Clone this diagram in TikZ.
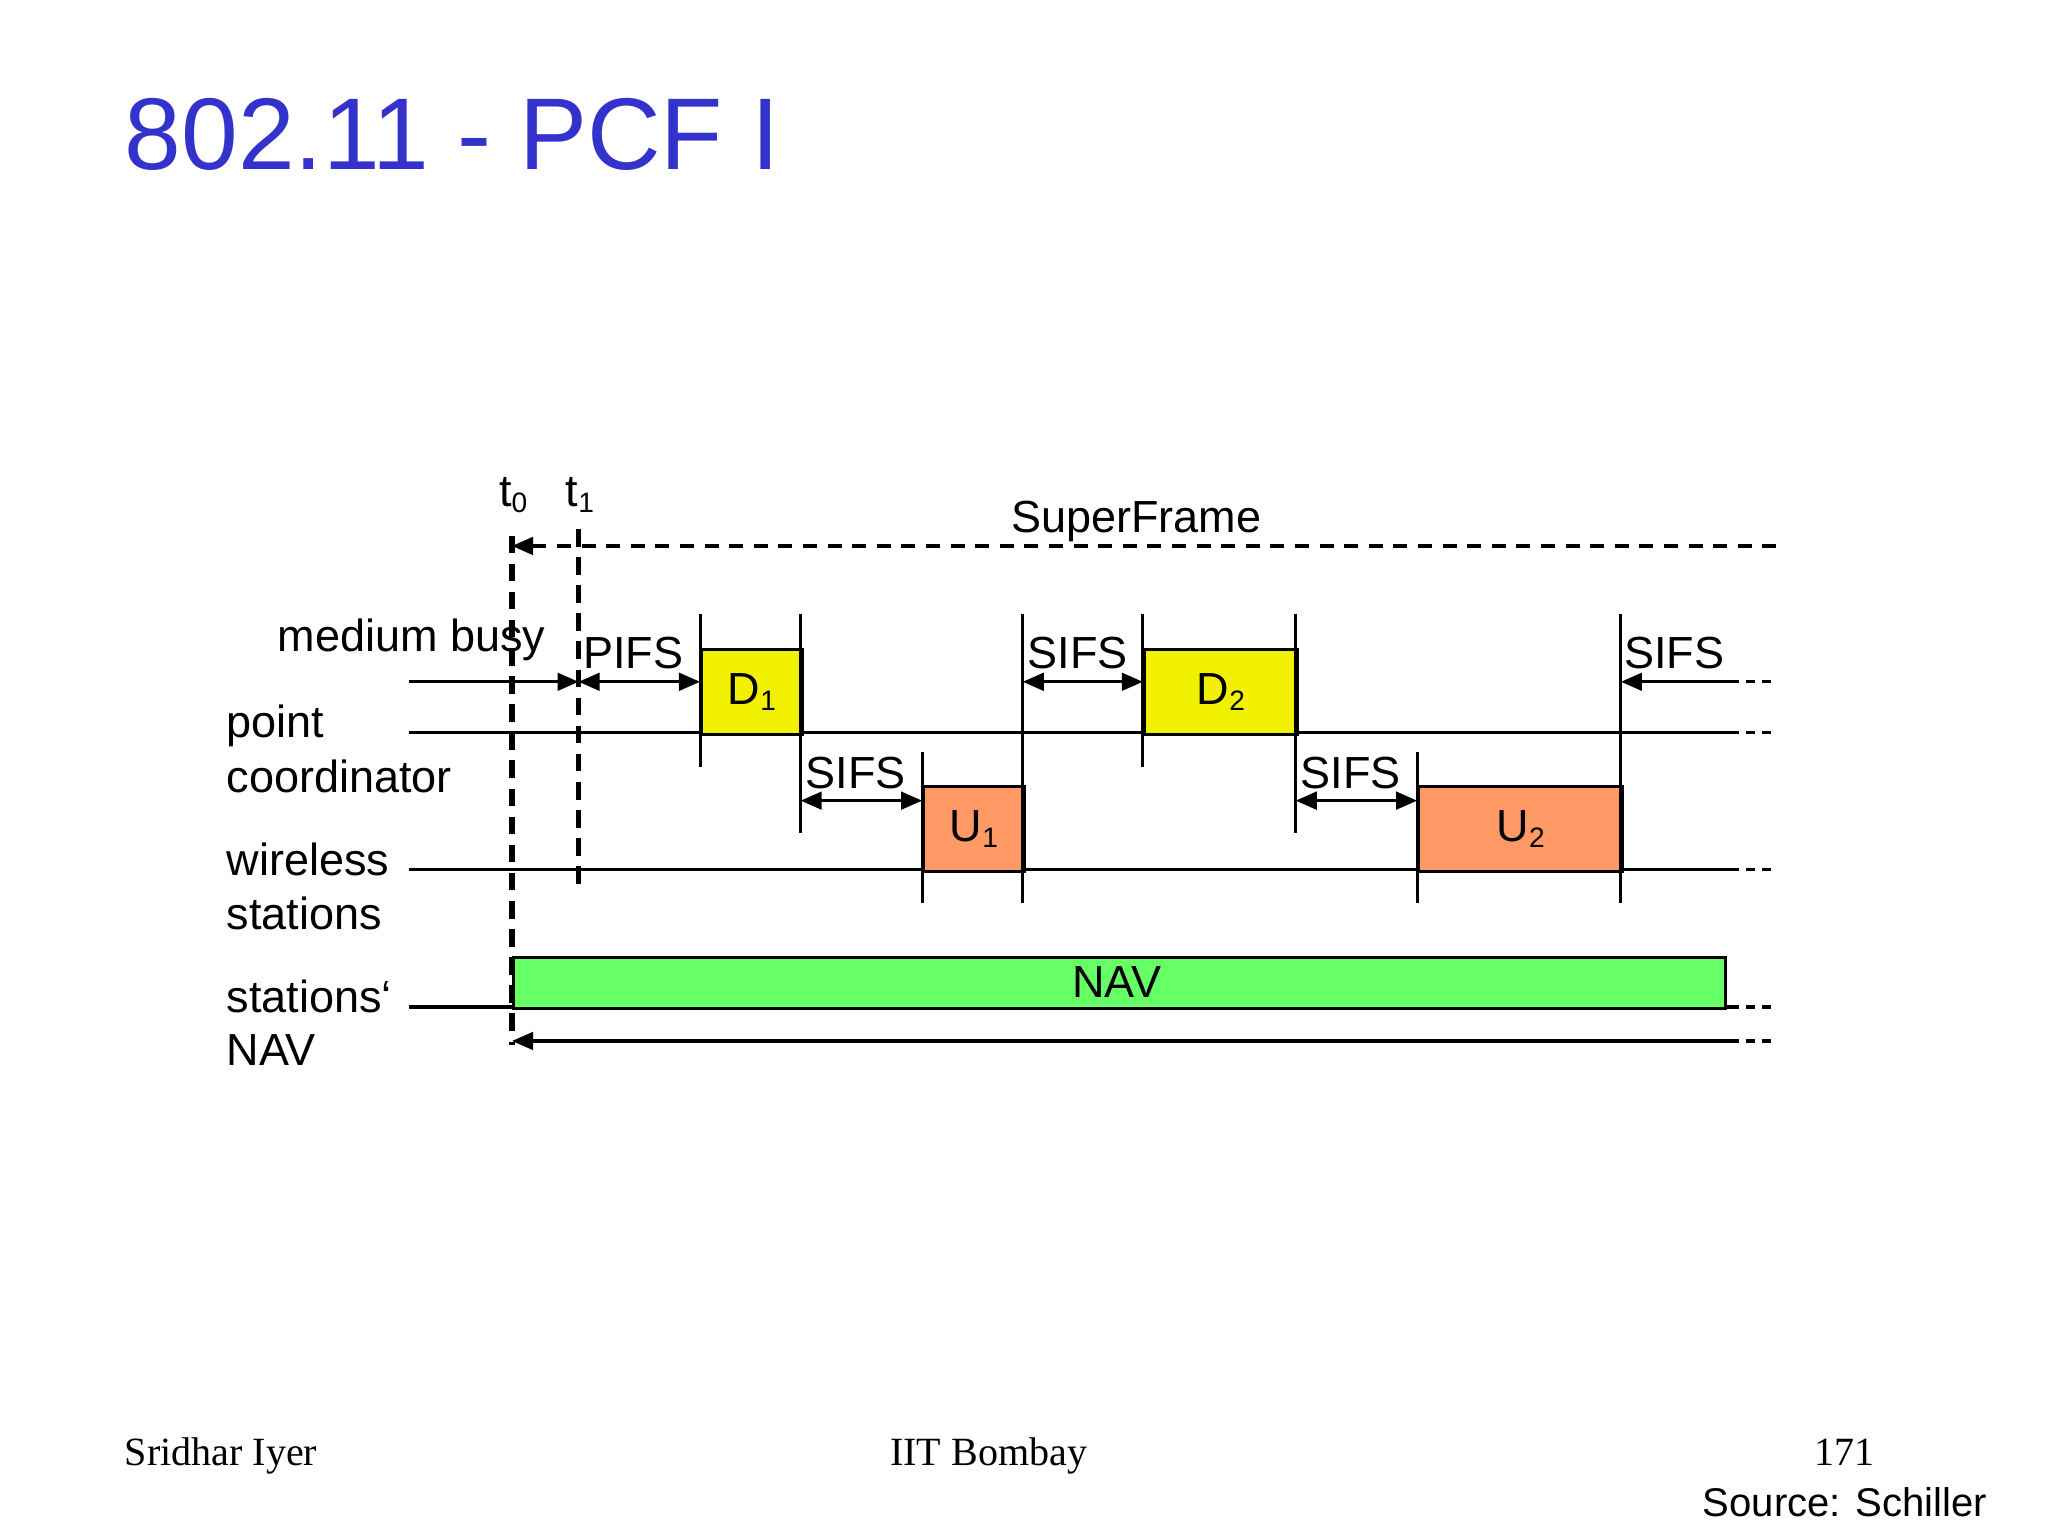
\documentclass[tikz,border=0pt]{standalone}
\usepackage{fontspec}
\setmainfont{Liberation Sans}
\newfontfamily\serifont{Liberation Serif}
\usetikzlibrary{arrows.meta}
\definecolor{ttl}{RGB}{51,51,204}
\definecolor{dy}{RGB}{240,240,0}
\definecolor{uo}{RGB}{255,153,102}
\definecolor{ng}{RGB}{102,255,102}
\newcommand{\sbs}[1]{\raisebox{-0.25ex}{\fontsize{8}{9}\selectfont #1}}
\begin{document}
\begin{tikzpicture}[x=0.01306cm,y=-0.01306cm,
 lab/.style={font=\fontsize{12.8}{15}\selectfont,inner sep=0},
 ln/.style={line width=0.9pt},
 dl/.style={line width=0.9pt,dash pattern=on 4pt off 3pt},
 tl/.style={line width=0.9pt,dash pattern=on 2.5pt off 2pt},
 dd/.style={line width=1.5pt,dash pattern=on 5pt off 3pt},
 ar/.style={line width=0.9pt,-{Triangle[length=6pt,width=5pt]}},
 dar/.style={line width=0.9pt,{Triangle[length=6pt,width=5pt]}-{Triangle[length=6pt,width=5pt]}},
 bx/.style={draw,line width=0.9pt}]
\useasboundingbox (0,0) rectangle (1568,1176);
\node[anchor=base west,inner sep=0,text=ttl,font=\fontsize{29}{34}\selectfont] (title) at (95,130) {802.11 - PCF I};
% times
\node[lab,anchor=base] (t0) at (393,388) {t\sbs{0}};
\node[lab,anchor=base] (t1) at (444,388) {t\sbs{1}};
\coordinate (t0a) at (392,410); \coordinate (t0b) at (392,800);
\coordinate (t1a) at (443,405); \coordinate (t1b) at (443,680);
\draw[dd] (t0a) -- (t0b);
\draw[dd] (t1a) -- (t1b);
% superframe
\coordinate (sfl) at (392,418); \coordinate (sfr) at (1360,418);
\draw[dl,{Triangle[length=6pt,width=5pt]}-] (sfl) -- (sfr);
\node[lab,anchor=base] (sf) at (870,408) {SuperFrame};
% labels
\node[lab,anchor=base] (mb) at (315,499) {medium busy};
\node[lab,anchor=base west] (pc1) at (173,565) {point};
\node[lab,anchor=base west] (pc2) at (173,607) {coordinator};
\node[lab,anchor=base west] (ws1) at (173,670) {wireless};
\node[lab,anchor=base west] (ws2) at (173,712) {stations};
\node[lab,anchor=base west] (nv1) at (173,775) {stations‘};
\node[lab,anchor=base west] (nv2) at (173,816) {NAV};
% base lines
\foreach \y/\n in {561/p,666/w,771/n}{
 \coordinate (\n a) at (313,\y); \coordinate (\n b) at (1325,\y); \coordinate (\n c) at (1360,\y);
 \draw[ln] (\n a) -- (\n b); \draw[tl] (\n b) -- (\n c);}
% boxes
\node[bx,fill=dy,minimum width=77*0.01306cm,minimum height=65*0.01306cm,anchor=north west,lab] (D1) at (536,496) {};
\node[lab] at (D1.center) {D\sbs{1}};
\node[bx,fill=dy,minimum width=117*0.01306cm,minimum height=65*0.01306cm,anchor=north west,lab] (D2) at (875,496) {};
\node[lab] at (D2.center) {D\sbs{2}};
\node[bx,fill=uo,minimum width=77*0.01306cm,minimum height=65*0.01306cm,anchor=north west,lab] (U1) at (706,601) {};
\node[lab] at (U1.center) {U\sbs{1}};
\node[bx,fill=uo,minimum width=156*0.01306cm,minimum height=65*0.01306cm,anchor=north west,lab] (U2) at (1085,601) {};
\node[lab] at (U2.center) {U\sbs{2}};
\node[bx,fill=ng,minimum width=928*0.01306cm,minimum height=39*0.01306cm,anchor=north west,lab] (NAV) at (392,732) {};
\node[lab,anchor=base] at (855,764) {NAV};
% ticks
\foreach \x/\a/\b in {536/470/587,613/470/638,706/576/691,783/470/691,875/470/587,992/470/638,1085/576/691,1241/470/691}
 \draw[ln] (\x,\a) -- (\x,\b);
% arrows
\coordinate (mbs) at (313,522); \coordinate (mbe) at (443,522);
\draw[ar] (mbs) -- (mbe);
\draw[dar] (443,522) -- (536,522);
\node[lab,anchor=base] at (485,512) {PIFS};
\draw[dar] (613,613) -- (706,613);
\node[lab,anchor=base] at (655,604) {SIFS};
\draw[dar] (783,522) -- (875,522);
\node[lab,anchor=base] at (825,512) {SIFS};
\draw[dar] (992,613) -- (1085,613);
\node[lab,anchor=base] at (1034,604) {SIFS};
\coordinate (s3a) at (1325,522); \coordinate (s3b) at (1241,522); \coordinate (s3c) at (1360,522);
\draw[ar] (s3a) -- (s3b); \draw[tl] (s3a) -- (s3c);
\node[lab,anchor=base] at (1282,512) {SIFS};
\coordinate (nra) at (1325,797); \coordinate (nrb) at (392,797); \coordinate (nrc) at (1360,797);
\draw[ar] (nra) -- (nrb); \draw[tl] (nra) -- (nrc);
% footer
\node[anchor=base west,inner sep=0,font=\serifont\fontsize{11.4}{13}\selectfont] (f1) at (95,1122) {Sridhar Iyer};
\node[anchor=base,inner sep=0,font=\serifont\fontsize{11.4}{13}\selectfont] (f2) at (757,1122) {IIT Bombay};
\node[anchor=base,inner sep=0,font=\serifont\fontsize{11.4}{13}\selectfont] (f3) at (1412,1122) {171};
\node[anchor=base east,inner sep=0,font=\fontsize{11.4}{13}\selectfont] (f4) at (1522,1161) {Source: Schiller};
\end{tikzpicture}
\end{document}
